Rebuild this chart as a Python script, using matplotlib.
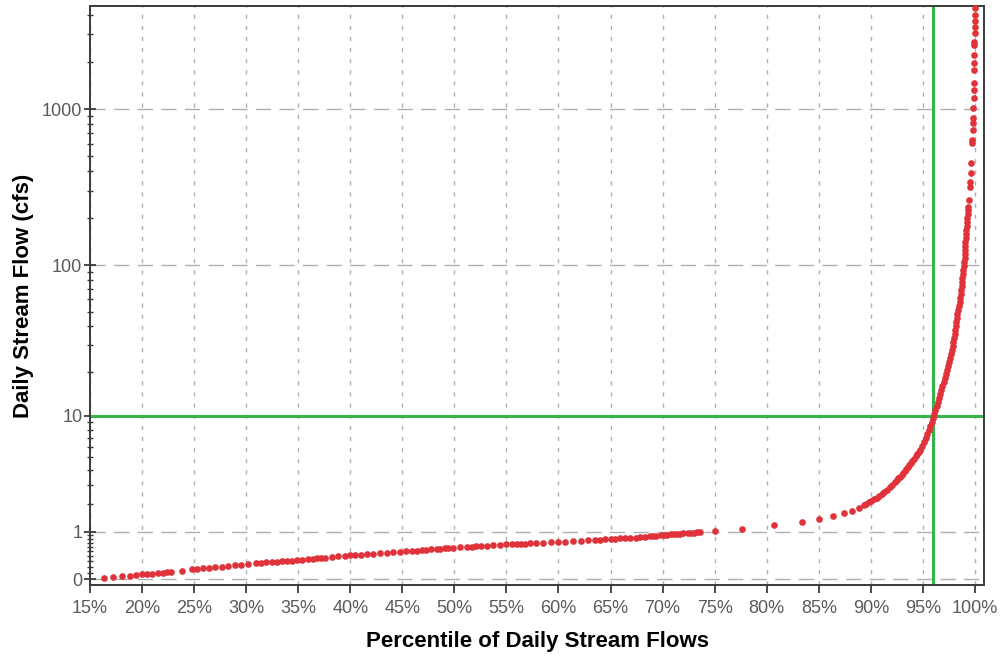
import numpy as np
import matplotlib
matplotlib.use("Agg")
import matplotlib.pyplot as plt
from matplotlib.ticker import FixedLocator, PercentFormatter, NullFormatter

plt.rcParams['font.family'] = ['Liberation Sans', 'DejaVu Sans']

# flow duration curve
# low flows (dense dots, 16% - 75%)
pct_low = [16.3, 17.2, 18.1, 18.8, 19.4, 20.0, 20.5, 21.0, 21.5, 22.0, 22.4, 22.8,
           23.8, 24.8, 25.3, 25.9, 26.4, 27.0, 27.7, 28.3, 28.9, 29.5, 30.2, 30.9,
           31.4, 31.9, 32.5, 33.0, 33.4, 33.9, 34.4, 34.9, 35.4, 35.9, 36.4, 36.8,
           37.2, 37.6, 38.2, 38.8, 39.5, 40.0, 40.5, 41.0, 41.6, 42.2, 42.9, 43.5,
           44.1, 44.8, 45.4, 45.9, 46.4, 46.9, 47.3, 47.8, 48.3, 48.6, 49.1, 49.4,
           49.9, 50.5, 51.2, 51.7, 52.1, 52.6, 53.1, 53.7, 54.4, 55.0, 55.5, 56.0,
           56.4, 56.8, 57.3, 57.8, 58.5, 59.3, 60.0, 60.6, 61.4, 62.2, 62.8, 63.5,
           64.0, 64.5, 65.0, 65.4, 65.9, 66.4, 66.9, 67.4, 67.8, 68.3, 68.8, 69.1,
           69.4, 69.8, 70.1, 70.4, 70.8, 71.1, 71.4, 71.7, 72.0, 72.4, 72.7, 73.0,
           73.3, 73.6, 75.0]
flow_low = [0.02, 0.03, 0.04, 0.05, 0.06, 0.07, 0.075, 0.08, 0.09, 0.10, 0.105, 0.11,
            0.13, 0.15, 0.16, 0.17, 0.18, 0.19, 0.20, 0.21, 0.22, 0.23, 0.245, 0.26,
            0.265, 0.275, 0.285, 0.29, 0.295, 0.305, 0.31, 0.32, 0.33, 0.34, 0.35, 0.355,
            0.36, 0.37, 0.38, 0.395, 0.41, 0.42, 0.425, 0.43, 0.44, 0.45, 0.46, 0.47,
            0.48, 0.49, 0.50, 0.51, 0.52, 0.53, 0.54, 0.545, 0.555, 0.56, 0.57, 0.575,
            0.585, 0.59, 0.60, 0.61, 0.615, 0.625, 0.635, 0.645, 0.655, 0.665, 0.67, 0.675,
            0.68, 0.685, 0.69, 0.695, 0.705, 0.715, 0.73, 0.735, 0.745, 0.755, 0.765, 0.775,
            0.78, 0.79, 0.80, 0.805, 0.815, 0.82, 0.83, 0.84, 0.85, 0.86, 0.87, 0.88,
            0.89, 0.90, 0.91, 0.915, 0.925, 0.93, 0.94, 0.945, 0.955, 0.965, 0.97, 0.98,
            0.99, 1.0, 1.02]

# sparse dots between 75% and 89%
pct_mid = [77.6, 80.7, 83.4, 85.0, 86.4, 87.4, 88.2, 88.87]
flow_mid = [1.10, 1.21, 1.32, 1.42, 1.51, 1.63, 1.72, 1.84]

# the bend and steep part (89% - 99.4%)
pct_high = [89.3, 89.55, 89.8, 90.05, 90.3, 90.55, 90.8, 91.05, 91.3, 91.55, 91.8,
            92.05, 92.3, 92.5, 92.65, 92.8, 92.95, 93.1, 93.25, 93.4, 93.55, 93.7,
            93.85, 94.0, 94.15, 94.3, 94.45, 94.6, 94.73, 94.92, 95.12, 95.27, 95.41,
            95.55, 95.70, 95.83, 95.95, 96.08, 96.20, 96.33, 96.43, 96.54, 96.66, 96.78,
            96.88, 97.00, 97.11, 97.23, 97.32, 97.42, 97.51, 97.59, 97.68, 97.77, 97.85,
            97.91, 97.98, 98.04, 98.09, 98.14, 98.19, 98.25, 98.32, 98.41, 98.47, 98.53,
            98.58, 98.63, 98.67, 98.71, 98.75, 98.79, 98.84, 98.89, 98.94, 98.98, 99.01,
            99.04, 99.06, 99.07, 99.09, 99.11, 99.13, 99.16, 99.19, 99.22, 99.26, 99.30,
            99.34, 99.37]
flow_high = [1.95, 2.01, 2.08, 2.15, 2.23, 2.31, 2.40, 2.48, 2.60, 2.71, 2.84,
             2.99, 3.15, 3.28, 3.39, 3.50, 3.62, 3.75, 3.88, 4.02, 4.16, 4.32,
             4.49, 4.67, 4.87, 5.07, 5.28, 5.48, 5.67, 6.07, 6.50, 6.95, 7.43,
             7.94, 8.49, 9.06, 9.67, 10.31, 11.0, 11.73, 12.5, 13.32, 14.18, 15.1,
             16.08, 17.11, 18.21, 19.37, 20.61, 21.92, 23.3, 24.78, 26.34, 28.0, 29.75,
             31.61, 33.59, 35.69, 37.9, 40.27, 42.77, 45.42, 48.24, 51.2, 54.4, 57.7,
             61.3, 65.1, 69.05, 73.3, 77.8, 82.6, 87.6, 93.0, 98.7, 104.8, 111.1,
             118, 125.2, 132.8, 140.9, 149.5, 158.6, 168.3, 178.6, 189.5, 201, 213,
             226, 236]

# highest flows, separate dots near 100%
pct_top = [99.44, 99.52, 99.55, 99.60, 99.66, 99.73, 99.75, 99.79, 99.81, 99.83,
           99.85, 99.87, 99.88, 99.89, 99.91, 99.92, 99.93, 99.94, 99.95, 99.96,
           99.97, 99.98, 99.99, 100.0]
flow_top = [262, 318, 342, 391, 452, 607, 636, 736, 816, 878,
            1013, 1175, 1327, 1463, 1779, 1963, 2218, 2570, 2697, 3054,
            3365, 3675, 3997, 4410]

pct = pct_low + pct_mid + pct_high + pct_top
flow = flow_low + flow_mid + flow_high + flow_top

y_major = [0, 1, 10, 100, 1000]
y_minor = ([0.1 * k for k in range(1, 10)] + list(range(2, 10)) +
           list(range(20, 100, 10)) + list(range(200, 1000, 100)) + [2000, 3000, 4000])
x_ticks = list(range(15, 101, 5))
target_pct = 96
target_flow = 10

fig = plt.figure(figsize=(10.01, 6.58), dpi=100)
ax = fig.add_axes([90 / 1001, 73 / 658, 894 / 1001, 579 / 658])

ax.set_yscale('function', functions=(lambda y: np.log10(np.asarray(y) + 1),
                                     lambda v: 10 ** np.asarray(v) - 1))
ax.set_xlim(15, 100.87)
ax.set_ylim(-0.0844, 4560)

ax.set_xticks(x_ticks)
ax.xaxis.set_major_formatter(PercentFormatter(xmax=100, decimals=0))
ax.yaxis.set_major_locator(FixedLocator(y_major))
ax.yaxis.set_minor_locator(FixedLocator(y_minor))
ax.yaxis.set_minor_formatter(NullFormatter())
ax.set_yticklabels([str(v) for v in y_major])

# grid
for xv in x_ticks:
    ax.axvline(xv, color='#b0b0b0', lw=1.0, ls=(0, (3, 5)), zorder=1)
for yv in y_major:
    ax.axhline(yv, color='#b0b0b0', lw=1.0, ls=(0, (11, 6)), zorder=1)

ax.axhline(target_flow, color='#33b54a', lw=2.2, zorder=2)
ax.axvline(target_pct, color='#33b54a', lw=2.2, zorder=2)

ax.plot(pct, flow, 'o', color='#e0323a', ms=4.8, mew=0, zorder=3, clip_on=False)

for s in ax.spines.values():
    s.set_color('#3a3a3a')
    s.set_linewidth(1.4)

ax.tick_params(axis='x', which='major', direction='out', length=6, width=1.3,
               colors='#3a3a3a', labelcolor='#5a5a5a', labelsize=13, pad=5)
ax.tick_params(axis='y', which='major', direction='inout', length=9, width=1.3,
               colors='#3a3a3a', labelcolor='#5a5a5a', labelsize=13, pad=1)
ax.tick_params(axis='y', which='minor', direction='inout', length=5, width=1.0,
               colors='#3a3a3a')

ax.set_xlabel('Percentile of Daily Stream Flows', fontsize=16, fontweight='bold',
              labelpad=10)
ax.set_ylabel('Daily Stream Flow (cfs)', fontsize=16, fontweight='bold', labelpad=6)

fig.savefig('out.png', dpi=100)
